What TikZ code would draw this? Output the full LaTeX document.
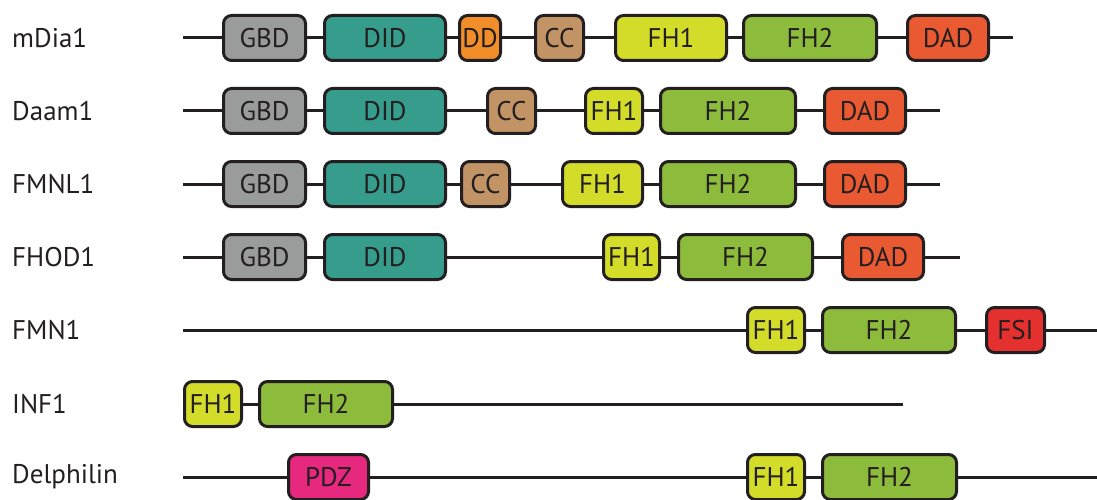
\documentclass[tikz,border=0pt]{standalone}
\usepackage{fontspec}
\setmainfont{PT Sans}
\definecolor{ink}{HTML}{231F20}
\definecolor{cGBD}{HTML}{9A9B9B}
\definecolor{cDID}{HTML}{369C8C}
\definecolor{cDD}{HTML}{F18E2A}
\definecolor{cCC}{HTML}{C29465}
\definecolor{cFHa}{HTML}{D4DC2A}
\definecolor{cFHb}{HTML}{8DBB3B}
\definecolor{cDAD}{HTML}{E95A33}
\definecolor{cFSI}{HTML}{E4302E}
\definecolor{cPDZ}{HTML}{E6287F}
\tikzset{
  dom/.style={draw=ink, line width=3pt, rounded corners=8pt, inner sep=0pt,
    minimum height=45pt, text=ink, font=\fontsize{27}{27}\selectfont},
  gbd/.style={dom, fill=cGBD, minimum width=82pt},
  did/.style={dom, fill=cDID, minimum width=121pt},
  ddd/.style={dom, fill=cDD, minimum width=41pt},
  ccd/.style={dom, fill=cCC, minimum width=48pt},
  fha/.style={dom, fill=cFHa},
  fhb/.style={dom, fill=cFHb, minimum width=133pt},
  dad/.style={dom, fill=cDAD, minimum width=81pt},
  fsi/.style={dom, fill=cFSI, minimum width=58pt},
  pdz/.style={dom, fill=cPDZ, minimum width=80pt},
  link/.style={draw=ink, line width=3pt},
  pname/.style={anchor=west, inner sep=0pt, text=ink, font=\fontsize{27}{27}\selectfont}
}
\begin{document}
\begin{tikzpicture}[x=1pt, y=-1pt]
\useasboundingbox (0,0) rectangle (1097,500);

% protein names
\node[pname] (n1) at (12,38)  {mDia1};
\node[pname] (n2) at (12,111) {Daam1};
\node[pname] (n3) at (12,184) {FMNL1};
\node[pname] (n4) at (12,257) {FHOD1};
\node[pname] (n5) at (12,330) {FMN1};
\node[pname] (n6) at (12,404) {INF1};
\node[pname] (n7) at (12,477) {Delphilin};

% mDia1
\coordinate (a0) at (183,38);
\coordinate (a9) at (1013,38);
\node[gbd] (a1) at (264.5,38) {GBD};
\node[did] (a2) at (385,38) {DID};
\node[ddd] (a3) at (480,38) {DD};
\node[ccd] (a4) at (559.5,38) {CC};
\node[fha, minimum width=111pt] (a5) at (671,38) {FH1};
\node[fhb] (a6) at (810,38) {FH2};
\node[dad] (a7) at (948,38) {DAD};
\draw[link] (a0) -- (a1) (a1) -- (a2) (a2) -- (a3) (a3) -- (a4)
  (a4) -- (a5) (a5) -- (a6) (a6) -- (a7) (a7) -- (a9);

% Daam1
\coordinate (b0) at (183,111);
\coordinate (b9) at (940,111);
\node[gbd] (b1) at (264.5,111) {GBD};
\node[did] (b2) at (385,111) {DID};
\node[ccd] (b3) at (511.5,111) {CC};
\node[fha, minimum width=57pt] (b4) at (614,111) {FH1};
\node[fhb, minimum width=135pt] (b5) at (728,111) {FH2};
\node[dad] (b6) at (865,111) {DAD};
\draw[link] (b0) -- (b1) (b1) -- (b2) (b2) -- (b3) (b3) -- (b4)
  (b4) -- (b5) (b5) -- (b6) (b6) -- (b9);

% FMNL1
\coordinate (c0) at (183,184);
\coordinate (c9) at (940,184);
\node[gbd] (c1) at (264.5,184) {GBD};
\node[did] (c2) at (385,184) {DID};
\node[ccd] (c3) at (485.5,184) {CC};
\node[fha, minimum width=80pt] (c4) at (602.5,184) {FH1};
\node[fhb, minimum width=135pt] (c5) at (728,184) {FH2};
\node[dad] (c6) at (865,184) {DAD};
\draw[link] (c0) -- (c1) (c1) -- (c2) (c2) -- (c3) (c3) -- (c4)
  (c4) -- (c5) (c5) -- (c6) (c6) -- (c9);

% FHOD1
\coordinate (d0) at (183,257);
\coordinate (d9) at (960,257);
\node[gbd] (d1) at (264.5,257) {GBD};
\node[did] (d2) at (385,257) {DID};
\node[fha, minimum width=56pt] (d3) at (631.5,257) {FH1};
\node[fhb, minimum width=134pt] (d4) at (745.5,257) {FH2};
\node[dad] (d5) at (883,257) {DAD};
\draw[link] (d0) -- (d1) (d1) -- (d2) (d2) -- (d3) (d3) -- (d4)
  (d4) -- (d5) (d5) -- (d9);

% FMN1
\coordinate (e0) at (183,330);
\coordinate (e9) at (1097,330);
\node[fha, minimum width=57pt] (e1) at (776,330) {FH1};
\node[fhb] (e2) at (889,330) {FH2};
\node[fsi] (e3) at (1015.5,330) {FSI};
\draw[link] (e0) -- (e1) (e1) -- (e2) (e2) -- (e3) (e3) -- (e9);

% INF1
\coordinate (f9) at (903,404);
\node[fha, minimum width=57pt] (f1) at (213,404) {FH1};
\node[fhb] (f2) at (326,404) {FH2};
\draw[link] (f1) -- (f2) (f2) -- (f9);

% Delphilin
\coordinate (g0) at (183,477);
\coordinate (g9) at (1097,477);
\node[pdz] (g1) at (328.5,477) {PDZ};
\node[fha, minimum width=57pt] (g2) at (776,477) {FH1};
\node[fhb, minimum width=134pt] (g3) at (889.5,477) {FH2};
\draw[link] (g0) -- (g1) (g1) -- (g2) (g2) -- (g3) (g3) -- (g9);
\end{tikzpicture}
\end{document}
